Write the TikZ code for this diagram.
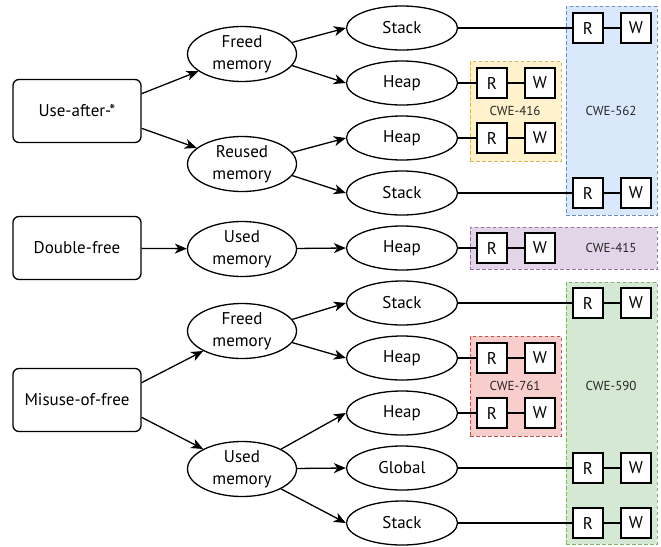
\documentclass[tikz,border=0pt]{standalone}
\usepackage{fontspec}
\setmainfont{PT Sans}
\usetikzlibrary{shapes.geometric,arrows.meta}

\definecolor{bluefill}{HTML}{DAE8FC}\definecolor{bluedraw}{HTML}{6C8EBF}
\definecolor{yelfill}{HTML}{FFF2CC}\definecolor{yeldraw}{HTML}{D6B656}
\definecolor{purfill}{HTML}{E1D5E7}\definecolor{purdraw}{HTML}{9673A6}
\definecolor{grnfill}{HTML}{D5E8D4}\definecolor{grndraw}{HTML}{82B366}
\definecolor{redfill}{HTML}{F8CECC}\definecolor{reddraw}{HTML}{B85450}

\tikzset{
  txt/.style={font=\fontsize{17}{22}\selectfont},
  root/.style={txt, draw, line width=1.3pt, rounded corners=6pt, minimum width=128pt,
    minimum height=63pt, inner sep=0pt},
  mem/.style={txt, draw, ellipse, line width=1.3pt, minimum width=109pt, minimum height=55pt,
    inner sep=0pt, align=center},
  leaf/.style={txt, draw, ellipse, line width=1.3pt, minimum width=111pt, minimum height=44pt,
    inner sep=0pt},
  rwbox/.style={txt, draw, fill=white, line width=1.3pt, minimum size=30pt, inner sep=0pt},
  grp/.style 2 args={draw=#2, fill=#1, dashed, dash pattern=on 3.5pt off 2.5pt,
    line width=0.9pt, inner sep=0pt},
  grplabel/.style={font=\fontsize{13}{15}\selectfont, text=black!85},
  arr/.style={line width=1.3pt, -{Stealth[length=12pt, width=10pt, inset=3.5pt]}},
  link/.style={line width=1.3pt},
}

\begin{document}
\begin{tikzpicture}[x=1pt, y=-1pt]
  \useasboundingbox (0,0) rectangle (661,546);

  % CWE groups in the background
  \node[grp={bluefill}{bluedraw}, minimum width=91pt, minimum height=209pt, anchor=north west] (g562) at (566,6) {};
  \node[grp={yelfill}{yeldraw}, minimum width=91pt, minimum height=100pt, anchor=north west] (g416) at (470,61) {};
  \node[grp={purfill}{purdraw}, minimum width=187pt, minimum height=42pt, anchor=north west] (g415) at (470,227) {};
  \node[grp={grnfill}{grndraw}, minimum width=91pt, minimum height=262pt, anchor=north west] (g590) at (566,282) {};
  \node[grp={redfill}{reddraw}, minimum width=91pt, minimum height=100pt, anchor=north west] (g761) at (470,336) {};

  \node[grplabel] (l562) at (611,111) {CWE-562};
  \node[grplabel] (l416) at (515,111) {CWE-416};
  \node[grplabel] (l415) at (611,248) {CWE-415};
  \node[grplabel] (l590) at (611,386) {CWE-590};
  \node[grplabel] (l761) at (515,386) {CWE-761};

  % root categories
  \node[root] (uaf) at (77,111) {Use-after-*};
  \node[root] (df)  at (77,248) {Double-free};
  \node[root] (mof) at (77,400) {Misuse-of-free};

  % memory states
  \node[mem] (ufreed) at (242,54)  {Freed\\memory};
  \node[mem] (ureuse) at (242,164) {Reused\\memory};
  \node[mem] (dused)  at (242,249) {Used\\memory};
  \node[mem] (mfreed) at (242,331) {Freed\\memory};
  \node[mem] (mused)  at (242,469) {Used\\memory};

  % memory regions
  \node[leaf] (s1) at (402,28)  {Stack};
  \node[leaf] (h1) at (402,83)  {Heap};
  \node[leaf] (h2) at (402,138) {Heap};
  \node[leaf] (s2) at (402,193) {Stack};
  \node[leaf] (h3) at (402,248) {Heap};
  \node[leaf] (s3) at (402,303) {Stack};
  \node[leaf] (h4) at (402,358) {Heap};
  \node[leaf] (h5) at (402,413) {Heap};
  \node[leaf] (g1) at (402,468) {Global};
  \node[leaf] (s4) at (402,523) {Stack};

  % read / write accesses
  \foreach \n/\rx/\wx/\y in {1/588/636/28, 2/492/540/83, 3/492/540/138, 4/588/636/193,
      5/492/540/248, 6/588/636/303, 7/492/540/358, 8/492/540/413, 9/588/636/468, 10/588/636/523}{
    \node[rwbox] (r\n) at (\rx,\y) {R};
    \node[rwbox] (w\n) at (\wx,\y) {W};
    \draw[link] (r\n) -- (w\n);
  }

  % edges from root categories
  \draw[arr] (uaf.15) -- (ufreed);
  \draw[arr] (uaf.-15) -- (ureuse);
  \draw[arr] (df) -- (dused);
  \draw[arr] (mof.15) -- (mfreed);
  \draw[arr] (mof.-15) -- (mused);

  % edges from memory states
  \draw[arr] (ufreed.13) -- (s1.west);
  \draw[arr] (ufreed.-13) -- (h1.west);
  \draw[arr] (ureuse.13) -- (h2.west);
  \draw[arr] (ureuse.-13) -- (s2.west);
  \draw[arr] (dused) -- (h3.west);
  \draw[arr] (mfreed.13) -- (s3.west);
  \draw[arr] (mfreed.-13) -- (h4.west);
  \draw[arr] (mused.27) -- (h5.west);
  \draw[arr] (mused) -- (g1.west);
  \draw[arr] (mused.-27) -- (s4.west);

  % links to the first access
  \draw[link] (s1) -- (r1);
  \draw[link] (h1) -- (r2);
  \draw[link] (h2) -- (r3);
  \draw[link] (s2) -- (r4);
  \draw[link] (h3) -- (r5);
  \draw[link] (s3) -- (r6);
  \draw[link] (h4) -- (r7);
  \draw[link] (h5) -- (r8);
  \draw[link] (g1) -- (r9);
  \draw[link] (s4) -- (r10);
\end{tikzpicture}
\end{document}
